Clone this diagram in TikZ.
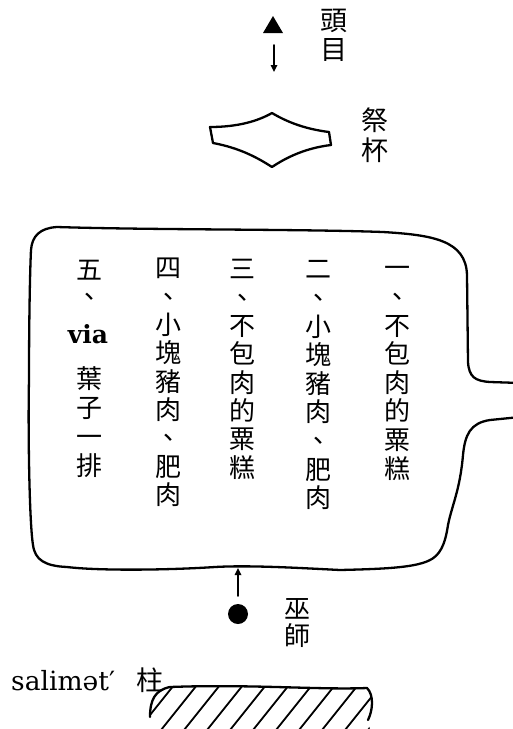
\documentclass[tikz,border=0pt]{standalone}
\usepackage{fontspec}
\newfontfamily\cjk{Noto Sans CJK TC}
\newfontfamily\lserif{DejaVu Serif}
\usetikzlibrary{arrows.meta}
\begin{document}
\begin{tikzpicture}[x=1pt,y=-1pt,line cap=round,line join=round,
  outline/.style={draw=black,line width=2.3pt},
  thinline/.style={draw=black,line width=1.6pt},
  hatchline/.style={draw=black,line width=1.8pt},
  arr/.style={thinline,-{Triangle[length=7pt,width=6.5pt]}},
  cjkbig/.style={font=\cjk\fontsize{27}{27}\selectfont,inner sep=0pt,text height=23.8pt,text depth=3.2pt},
  cjkchar/.style={font=\cjk\fontsize{26}{26}\selectfont,inner sep=0pt,text height=22.9pt,text depth=3.1pt},
  latin/.style={font=\lserif\fontsize{26.5}{26.5}\selectfont,inner sep=0pt},
  latinbold/.style={font=\lserif\bfseries\fontsize{25}{25}\selectfont,inner sep=0pt}]
\useasboundingbox (0,0) rectangle (512,729);

% chief (triangle) and arrow to the cup
\fill (263,33) -- (273,16) -- (283,33) -- cycle;
\coordinate (chiefarrow) at (274,45);
\coordinate (cupabove) at (274,72);
\draw[arr] (chiefarrow) -- (cupabove);
\node[cjkbig] (tou) at (334,20.5) {頭};
\node[cjkbig] (mu) at (334,49.5) {目};

% cup
\draw[outline] (210,127) -- (213,143)
  .. controls (240,148) and (258,158) .. (272,167)
  .. controls (287,157) and (306,148) .. (331,145)
  -- (329,132)
  .. controls (305,129) and (287,122) .. (272,113)
  .. controls (258,121) and (238,127) .. (210,127) -- cycle;
\node[cjkbig] (ji) at (375,120) {祭};
\node[cjkbig] (bei) at (375,150) {杯};

% big offering board
\draw[outline] (57,227)
  .. controls (150,230) and (300,229) .. (383,232)
  .. controls (432,235) and (466,240) .. (467,275)
  -- (468,362)
  .. controls (469,377) and (475,381) .. (490,382)
  -- (520,383)
  (520,417) -- (490,420)
  .. controls (470,423) and (465,435) .. (463,455)
  .. controls (460,490) and (452,505) .. (448,525)
  .. controls (445,545) and (440,556) .. (428,561)
  .. controls (412,568) and (380,569) .. (340,570)
  .. controls (300,568) and (250,565) .. (215,567)
  .. controls (170,570) and (100,571) .. (67,567)
  .. controls (45,566) and (35,560) .. (33,545)
  .. controls (29,520) and (28,420) .. (29,380)
  .. controls (29,320) and (30,270) .. (31,250)
  .. controls (32,236) and (40,228) .. (57,227);

% column 1
\foreach \c [count=\k] in {一,、,不,包,肉,的,粟,糕}
  \node[cjkchar] (ca\k) at (397,268+28.6*\k-28.6) {\c};
% column 2
\foreach \c [count=\k] in {二,、,小,塊,豬,肉,、,肥,肉}
  \node[cjkchar] (cb\k) at (318,269+28.6*\k-28.6) {\c};
% column 3
\foreach \c [count=\k] in {三,、,不,包,肉,的,粟,糕}
  \node[cjkchar] (cc\k) at (242,269+28.3*\k-28.3) {\c};
% column 4
\foreach \c [count=\k] in {四,、,小,塊,豬,肉,、,肥,肉}
  \node[cjkchar] (cd\k) at (168,268+28.3*\k-28.3) {\c};
% column 5
\node[cjkchar] (ce1) at (89,270) {五};
\node[cjkchar] (ce2) at (89,297) {、};
\node[latinbold,anchor=base] (via) at (88,343) {via};
\foreach \c [count=\k] in {葉,子,一,排}
  \node[cjkchar] (cf\k) at (89,379+29*\k-29) {\c};

% shaman
\node[circle,fill=black,inner sep=0pt,minimum size=20pt] (shaman) at (238,614) {};
\coordinate (shamanarrow) at (238,596);
\coordinate (boardbottom) at (238,568);
\draw[arr] (shamanarrow) -- (boardbottom);
\node[cjkchar] (wu) at (297,609) {巫};
\node[cjkchar] (shi) at (297,636) {師};

% pillar
\node[latin,anchor=base west] (salimat) at (11,690) {salimət′};
\node[cjkbig] (zhu) at (150,680) {柱};
\begin{scope}
  \clip (150,717) .. controls (150,700) and (155,690) .. (170,687)
    .. controls (250,684) and (320,690) .. (367,688)
    .. controls (374,695) and (373,710) .. (368,720)
    -- (372,740) -- (150,740) -- cycle;
  \foreach \i in {0,...,10}
    \draw[hatchline] (130+\i*23,740) -- ++(48,-60);
\end{scope}
\draw[outline] (150,717) .. controls (150,700) and (155,690) .. (170,687)
    .. controls (250,684) and (320,690) .. (367,688)
    .. controls (374,695) and (373,710) .. (368,720);
\end{tikzpicture}
\end{document}
